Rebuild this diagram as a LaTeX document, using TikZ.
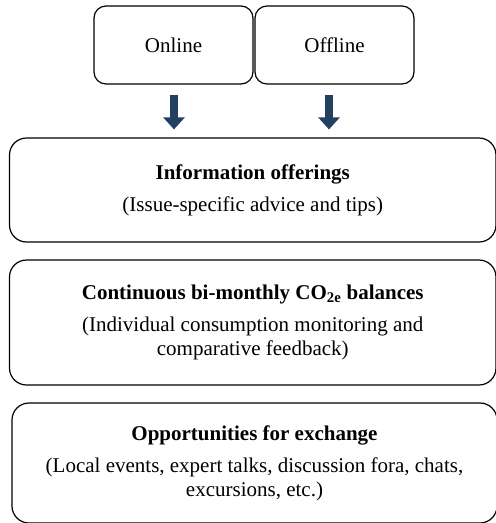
\documentclass[tikz,border=0pt]{standalone}
\usepackage{fontspec}
\setmainfont{Liberation Serif}
\usepackage{xcolor}
\usetikzlibrary{arrows.meta}
\definecolor{arrowblue}{RGB}{36,64,97}

\begin{document}
\begin{tikzpicture}[
    x=1pt, y=-1pt,
    every node/.style={font=\fontsize{21}{24}\selectfont},
    channel/.style={rectangle, draw, line width=1.2pt, rounded corners=12pt, minimum width=159pt, minimum height=78pt, inner sep=0pt},
    offer/.style={rectangle, draw, line width=1.2pt, rounded corners=17pt, align=center, inner sep=0pt},
    flow/.style={draw=arrowblue, line width=8pt, -{Triangle[width=21pt, length=12pt]}, shorten >=8pt}
]
    \useasboundingbox (0,0) rectangle (496,523);

    % Channels
    \node[channel] (online) at (173.5, 45) {Online};
    \node[channel] (offline) at (334.5, 45) {Offline};

    % Offerings
    \node[offer, minimum width=486.5pt, minimum height=104pt] (info) at (252.75, 190)
        {\textbf{Information offerings}\\[8pt](Issue-specific advice and tips)};
    \node[offer, minimum width=486.5pt, minimum height=125pt] (balance) at (252.75, 322.5)
        {\textbf{Continuous bi-monthly CO\textsubscript{2e} balances}\\[8pt](Individual consumption monitoring and\\comparative feedback)};
    \node[offer, minimum width=485pt, minimum height=120pt] (exchange) at (254.5, 463)
        {\textbf{Opportunities for exchange}\\[8pt](Local events, expert talks, discussion fora, chats,\\excursions, etc.)};

    % Arrows
    \draw[flow] ([xshift=0.5pt, yshift=-10pt]online.south) -- ([xshift=0.5pt]online.south |- info.north);
    \draw[flow] ([xshift=-5.5pt, yshift=-10pt]offline.south) -- ([xshift=-5.5pt]offline.south |- info.north);
\end{tikzpicture}
\end{document}
